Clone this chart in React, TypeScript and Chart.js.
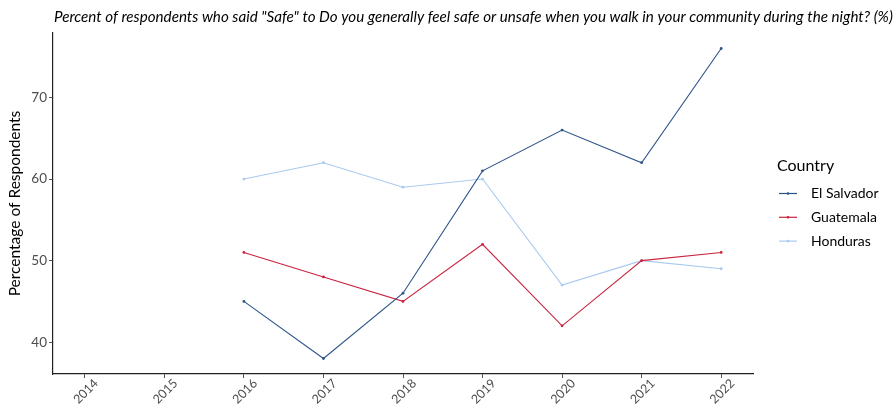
import React, { useEffect, useRef } from "react";
import { Chart, registerables } from "chart.js";

Chart.register(...registerables);

const titleText =
  'Percent of respondents who said "Safe" to Do you generally feel safe or unsafe when you walk in your community during the night? (%)';
const yAxisTitle = "Percentage of Respondents";
const legendTitle = "Country";
const years = [2014, 2015, 2016, 2017, 2018, 2019, 2020, 2021, 2022];
const dataYears = [2016, 2017, 2018, 2019, 2020, 2021, 2022];
const yTicks = [40, 50, 60, 70];
const countries = ["El Salvador", "Guatemala", "Honduras"];
const elSalvador = [45, 38, 46, 61, 66, 62, 76];
const guatemala = [51, 48, 45, 52, 42, 50, 51];
const honduras = [60, 62, 59, 60, 47, 50, 49];
const colors = ["#2C5487", "#C9243F", "#A9C9EF"];

const FONT = "Lato, 'Noto Sans', sans-serif";

export default function App() {
  const ref = useRef<HTMLCanvasElement | null>(null);
  useEffect(() => {
    document.body.style.margin = "0";
    const series = [elSalvador, guatemala, honduras];
    const allVals = series.flat();
    const vmin = Math.min(...allVals);
    const vmax = Math.max(...allVals);
    const pad = (vmax - vmin) * 0.05;

    const overlay = {
      id: "overlay",
      afterDraw(chart: any) {
        const ctx = chart.ctx;
        ctx.save();
        ctx.fillStyle = "#000";
        ctx.font = `italic 15.2px ${FONT}`;
        ctx.textBaseline = "alphabetic";
        ctx.textAlign = "left";
        ctx.fillText(titleText, 54, 22);

        // x tick labels, rotated 45 degrees and centred under each tick
        const xs = chart.scales.x;
        ctx.font = `12.5px ${FONT}`;
        ctx.fillStyle = "#4d4d4d";
        ctx.textAlign = "center";
        ctx.textBaseline = "middle";
        years.forEach((yr) => {
          const px = xs.getPixelForValue(yr);
          ctx.save();
          ctx.translate(px + 1, 391.5);
          ctx.rotate(-Math.PI / 4);
          ctx.fillText(String(yr), 0, 0);
          ctx.restore();
        });

        // legend
        ctx.textAlign = "left";
        ctx.textBaseline = "alphabetic";
        ctx.fillStyle = "#000";
        ctx.font = `16px ${FONT}`;
        ctx.fillText(legendTitle, 777, 171);
        ctx.font = `14px ${FONT}`;
        countries.forEach((c, i) => {
          const y = 193.5 + i * 23.8;
          ctx.strokeStyle = colors[i];
          ctx.lineWidth = 1.2;
          ctx.beginPath();
          ctx.moveTo(779, y);
          ctx.lineTo(797, y);
          ctx.stroke();
          ctx.fillStyle = colors[i];
          ctx.beginPath();
          ctx.arc(788, y, 1.3, 0, Math.PI * 2);
          ctx.fill();
          ctx.fillStyle = "#000";
          ctx.textBaseline = "middle";
          ctx.fillText(c, 811, y);
        });
        ctx.restore();
      },
    };

    const chart = new Chart(ref.current!, {
      type: "line",
      data: {
        datasets: series.map((s, i) => ({
          label: countries[i],
          data: s.map((v, j) => ({ x: dataYears[j], y: v })),
          borderColor: colors[i],
          backgroundColor: colors[i],
          borderWidth: 1.1,
          pointRadius: 1.4,
          pointHoverRadius: 1.4,
          pointBorderWidth: 0,
          tension: 0,
          fill: false,
        })),
      },
      options: {
        animation: false,
        responsive: false,
        devicePixelRatio: 1,
        layout: { padding: { top: 33, right: 140, left: 0, bottom: 0 } },
        plugins: {
          legend: { display: false },
          tooltip: { enabled: false },
          title: { display: false },
        },
        scales: {
          x: {
            type: "linear",
            min: years[0] - 0.4,
            max: years[years.length - 1] + 0.4,
            afterBuildTicks: (scale: any) => {
              scale.ticks = years.map((v) => ({ value: v }));
            },
            afterFit: (scale: any) => {
              scale.height = 30;
            },
            grid: {
              drawOnChartArea: false,
              drawTicks: true,
              tickLength: 4,
              color: "#333",
              tickColor: "#555",
            },
            border: { display: true, color: "#222", width: 1.2 },
            ticks: {
              display: false,
              autoSkip: false,
              callback: (v: any) => String(v),
            },
          },
          y: {
            min: vmin - pad,
            max: vmax + pad,
            afterBuildTicks: (scale: any) => {
              scale.ticks = yTicks.map((v) => ({ value: v }));
            },
            afterFit: (scale: any) => {
              scale.width = 53;
            },
            grid: {
              drawOnChartArea: false,
              drawTicks: true,
              tickLength: 4,
              tickColor: "#555",
            },
            border: { display: true, color: "#222", width: 1.2 },
            ticks: {
              padding: 2,
              color: "#4d4d4d",
              font: { family: FONT, size: 13.5 },
              callback: (v: any) => String(v),
            },
            title: {
              display: true,
              text: yAxisTitle,
              color: "#000",
              font: { family: FONT, size: 15.5 },
              padding: { top: 6, bottom: 0 },
            },
          },
        },
      },
      plugins: [overlay],
    });
    return () => chart.destroy();
  }, []);
  return (
    <div style={{ position: "absolute", left: 0, top: 0, width: 893, height: 404 }}>
      <canvas ref={ref} width={893} height={404} />
    </div>
  );
}
